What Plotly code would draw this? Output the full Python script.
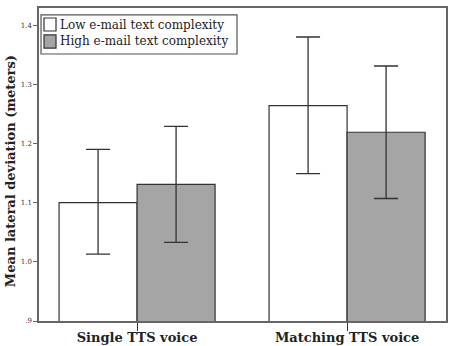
import plotly.graph_objects as go

categories = ["Single TTS voice", "Matching TTS voice"]
tick_labels = ["<b>Single TTS voice</b>", "<b>Matching TTS voice</b>"]
series_names = ["Low e-mail text complexity", "High e-mail text complexity"]
y_title = "<b>Mean lateral deviation (meters)</b>"
low_vals = [1.100, 1.264]
low_hi = [1.190, 1.380]
low_lo = [1.013, 1.149]
high_vals = [1.131, 1.219]
high_hi = [1.229, 1.331]
high_lo = [1.033, 1.107]
ytick_vals = [0.9, 1.0, 1.1, 1.2, 1.3, 1.4]
ytick_text = [".9", "1.0", "1.1", "1.2", "1.3", "1.4"]

serif = "DejaVu Serif"
colors = ["white", "#a5a5a5"]

def err(vals, hi, lo):
    return dict(type="data", symmetric=False,
                array=[h - v for h, v in zip(hi, vals)],
                arrayminus=[v - l for v, l in zip(vals, lo)],
                color="#333333", thickness=1.3, width=12)

fig = go.Figure()
fig.add_bar(x=categories, y=low_vals, name=series_names[0],
            marker=dict(color=colors[0], line=dict(color="#333333", width=1.2)),
            error_y=err(low_vals, low_hi, low_lo))
fig.add_bar(x=categories, y=high_vals, name=series_names[1],
            marker=dict(color=colors[1], line=dict(color="#333333", width=1.2)),
            error_y=err(high_vals, high_hi, high_lo))

# compact legend drawn in paper coordinates
fig.add_shape(type="rect", xref="paper", yref="paper", x0=0.005, x1=0.4865, y0=0.853, y1=0.978,
              line=dict(color="#555555", width=1.2), fillcolor="white", layer="above")
sq = [(0.968, 0.9265), (0.914, 0.872)]
ty = [0.947, 0.893]
for i in range(2):
    fig.add_shape(type="rect", xref="paper", yref="paper", x0=0.0123, x1=0.0418,
                  y0=sq[i][1], y1=sq[i][0], line=dict(color="#333333", width=1.2),
                  fillcolor=colors[i], layer="above")
    fig.add_annotation(xref="paper", yref="paper", x=0.047, y=ty[i], xanchor="left",
                       yanchor="middle", text=series_names[i], showarrow=False,
                       font=dict(family=serif, size=12, color="#222222"))

fig.add_annotation(xref="paper", yref="paper", x=-0.071, y=0.479, textangle=-90,
                   xanchor="center", yanchor="middle", text=y_title, showarrow=False,
                   font=dict(family=serif, size=13, color="#222222"))

fig.update_layout(
    width=452, height=346,
    margin=dict(l=39, r=6, t=8, b=25),
    paper_bgcolor="white", plot_bgcolor="white",
    barmode="group", bargap=0.257, bargroupgap=0,
    font=dict(family=serif, color="#222222"),
    showlegend=False,
    xaxis=dict(range=[-0.467, 1.471], showline=True, linecolor="#666666", linewidth=1.5,
               mirror=True, ticks="outside", ticklen=8, tickcolor="#333333",
               tickvals=categories, ticktext=tick_labels, automargin=False,
               ticklabelstandoff=-4,
               tickfont=dict(family=serif, size=13, color="#222222"),
               showgrid=False, zeroline=False),
    yaxis=dict(range=[0.9, 1.429], showline=True, linecolor="#666666", linewidth=1.5,
               mirror=True, ticks="outside", ticklen=4, tickcolor="#666666",
               tickvals=ytick_vals, ticktext=ytick_text, automargin=False,
               tickfont=dict(family=serif, size=7, color="#333333"),
               showgrid=False, zeroline=False),
)
fig.write_html("out.html")
